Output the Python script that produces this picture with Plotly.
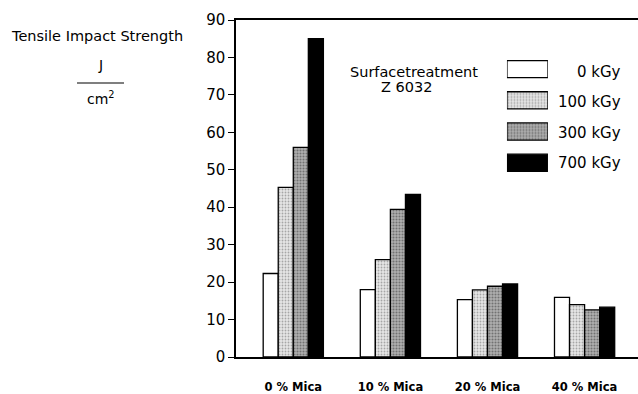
import plotly.graph_objects as go

categories = ["0 % Mica", "10 % Mica", "20 % Mica", "40 % Mica"]
series_names = ["0 kGy", "100 kGy", "300 kGy", "700 kGy"]
v0 = [22.3, 18.0, 15.3, 15.9]
v100 = [45.3, 26.0, 17.9, 14.0]
v300 = [56.0, 39.4, 18.9, 12.6]
v700 = [85.0, 43.4, 19.5, 13.3]
y_ticks = [0, 10, 20, 30, 40, 50, 60, 70, 80, 90]

series_values = [v0, v100, v300, v700]
styles = [
    dict(color="white", pattern=None),
    dict(color="#e0e0e0", pattern=dict(shape=".", fgcolor="#666", bgcolor="#e6e6e6", size=3, solidity=0.3)),
    dict(color="#a8a8a8", pattern=dict(shape=".", fgcolor="#333", bgcolor="#b0b0b0", size=3, solidity=0.4)),
    dict(color="black", pattern=None),
]

FONT = "DejaVu Sans"
fig = go.Figure()
for name, vals, st in zip(series_names, series_values, styles):
    marker = dict(color=st["color"], line=dict(color="black", width=1.3))
    if st["pattern"]:
        marker["pattern"] = st["pattern"]
    fig.add_trace(go.Bar(x=categories, y=vals, name=name, marker=marker,
                         showlegend=False, xaxis="x", yaxis="y"))
    # legend swatch on a separate small axis
    fig.add_trace(go.Bar(y=[name], x=[1], orientation="h", width=0.55,
                         marker=dict(marker), showlegend=False, xaxis="x2", yaxis="y2",
                         hoverinfo="skip"))

fig.update_layout(
    width=638, height=394,
    margin=dict(l=236, r=0, t=20, b=37),
    plot_bgcolor="white", paper_bgcolor="white",
    barmode="group", bargap=0.38, bargroupgap=0,
    font=dict(family=FONT, size=13, color="black"),
    xaxis=dict(domain=[0, 1], range=[-0.59, 3.55], showline=True, linecolor="black",
               linewidth=1.5, mirror=True, ticks="", showgrid=False,
               tickfont=dict(size=11.5, family=FONT, weight="bold"), ticklabelstandoff=18),
    yaxis=dict(domain=[0, 1], range=[0, 90], tickvals=y_ticks, showline=True,
               linecolor="black", linewidth=1.5, ticks="outside", ticklen=6,
               tickwidth=1.2, tickcolor="black", showgrid=False, zeroline=False,
               tickfont=dict(size=15, family=FONT)),
    xaxis2=dict(domain=[0.674, 0.776], range=[0, 1], visible=False, anchor="y2"),
    yaxis2=dict(domain=[0.53, 0.9006], visible=False, anchor="x2",
                categoryorder="array", categoryarray=series_names[::-1],
                range=[-0.5, 3.5]),
    showlegend=False,
)

legend_y = [0.846, 0.757, 0.666, 0.577]
for name, yy in zip(series_names, legend_y):
    fig.add_annotation(x=0.962, y=yy, xref="paper", yref="paper", text=name,
                       showarrow=False, xanchor="right", yanchor="middle",
                       font=dict(size=15, family=FONT))

fig.add_annotation(x=0.443, y=0.846, xref="paper", yref="paper", text="Surfacetreatment",
                   showarrow=False, xanchor="center", yanchor="middle", font=dict(size=14.5, family=FONT))
fig.add_annotation(x=0.423, y=0.801, xref="paper", yref="paper", text="Z 6032",
                   showarrow=False, xanchor="center", yanchor="middle", font=dict(size=14.5, family=FONT))

fig.add_annotation(x=-0.346, y=0.9525, xref="paper", yref="paper", text="Tensile Impact Strength",
                   showarrow=False, xanchor="center", yanchor="middle", font=dict(size=14.5, family=FONT))
fig.add_annotation(x=-0.337, y=0.866, xref="paper", yref="paper", text="J",
                   showarrow=False, xanchor="center", yanchor="middle", font=dict(size=14, family=FONT))
fig.add_annotation(x=-0.337, y=0.768, xref="paper", yref="paper", text="cm<sup>2</sup>",
                   showarrow=False, xanchor="center", yanchor="middle", font=dict(size=14, family=FONT))
fig.add_shape(type="line", xref="paper", yref="paper", x0=-0.3955, x1=-0.2786, y0=0.813, y1=0.813,
              line=dict(color="black", width=1.2))

fig.write_html("out.html", config={"displayModeBar": False},
               post_script="document.body.style.margin='0';document.body.style.padding='0';document.body.style.overflow='hidden';")
